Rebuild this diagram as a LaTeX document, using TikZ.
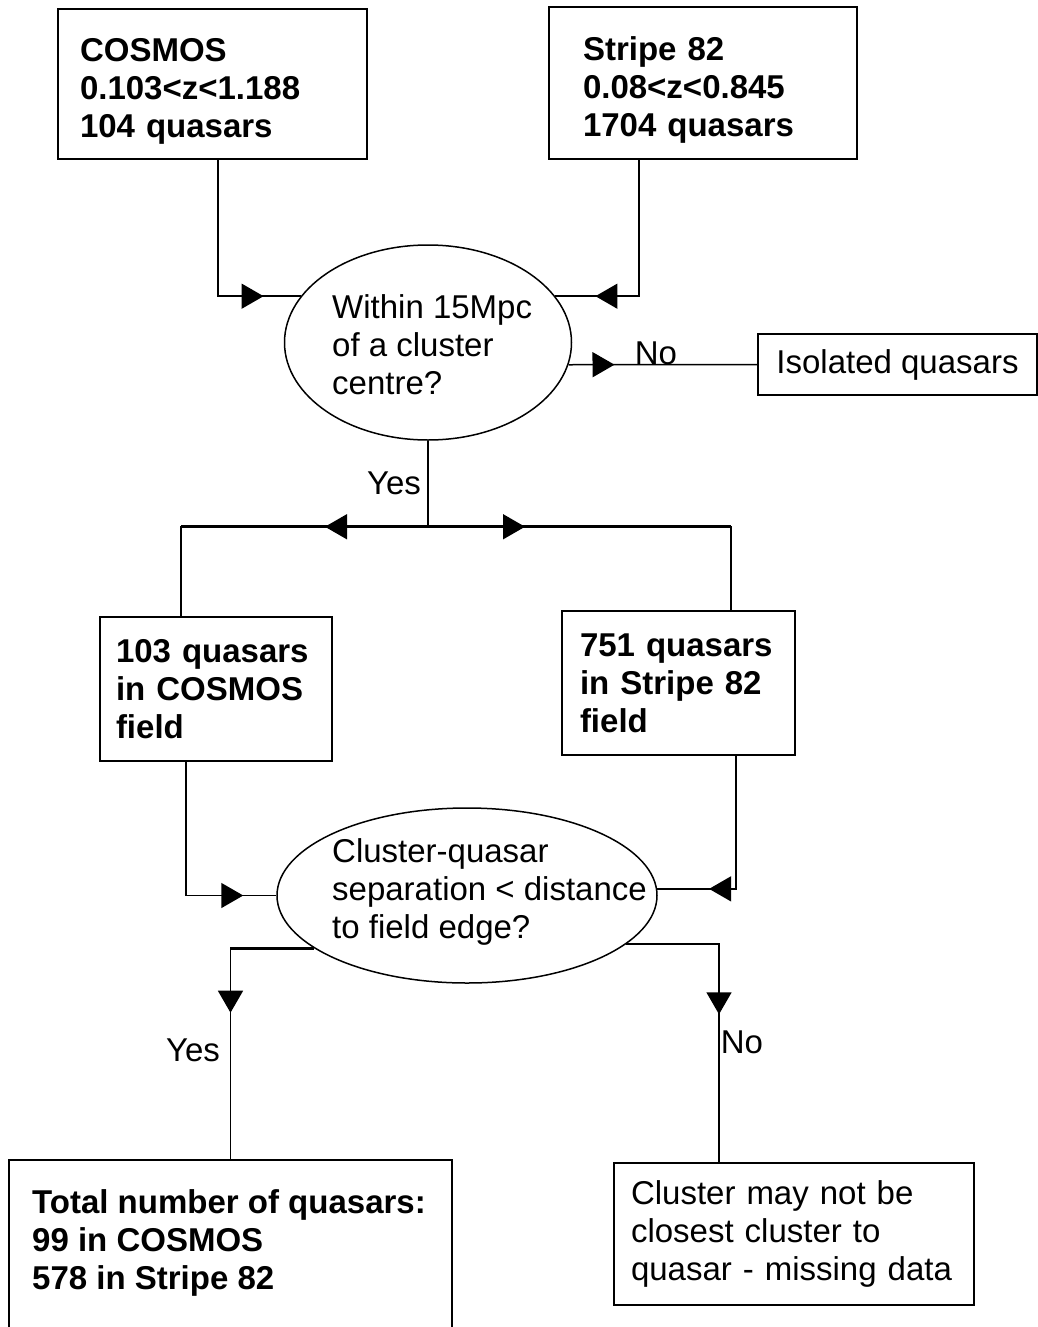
\documentclass[tikz,border=0pt]{standalone}
\usepackage{fontspec}
\setmainfont{Liberation Sans}
\usetikzlibrary{shapes.geometric,arrows.meta,decorations.markings,calc}
\begin{document}
\begin{tikzpicture}[x=1pt,y=-1pt,
  txt/.style={font=\fontsize{33}{38}\selectfont},
  bold/.style={font=\fontsize{33}{38}\selectfont\bfseries},
  box/.style={draw, line width=1.5pt, rectangle, align=left, inner ysep=0pt},
  oval/.style={draw, line width=1.5pt, ellipse, inner sep=0pt},
  conn/.style={line width=1.5pt},
  thickconn/.style={line width=3pt},
  midarrow/.style={postaction={decorate,decoration={markings,mark=at position #1 with {\arrow{Triangle[length=22pt,width=25pt]}}}}},
  lbl/.style={txt, inner sep=0pt}
]
\clip (0,0) rectangle (1038,1327);
\fill[white] (0,0) rectangle (1038,1327);

% boxes
\node[box, bold, text width=265pt, inner xsep=22pt, minimum height=150pt] (cosmos) at (212.5,84)
  {\rule{0pt}{38pt}COSMOS\\0.103<z<1.188\\104 quasars};
\node[box, bold, text width=240pt, inner xsep=34pt, minimum height=152pt] (s82) at (703,83)
  {\rule{0pt}{37pt}Stripe 82\\0.08<z<0.845\\1704 quasars};
\node[box, txt, minimum width=279pt, minimum height=61pt, align=center] (iso) at (897.5,364.5)
  {Isolated quasars};
\node[box, bold, text width=200pt, inner xsep=16pt, minimum height=144pt] (q103) at (216,689)
  {103 quasars\\in COSMOS\\field};
\node[box, bold, text width=197pt, inner xsep=18pt, minimum height=144pt] (q751) at (678.5,683)
  {751 quasars\\in Stripe 82\\field};
\node[box, minimum width=443pt, minimum height=180pt] (total) at (230.5,1250) {};
\node[bold, anchor=west, align=left, inner sep=0pt] (totalt) at (32,1243)
  {Total number of quasars:\\99 in COSMOS\\578 in Stripe 82};
\node[box, txt, text width=326pt, inner xsep=17pt, minimum height=142pt] (cluster) at (794,1234)
  {Cluster may not be\\closest cluster to\\quasar - missing data};

% decision ellipses
\node[oval, minimum width=287pt, minimum height=195pt] (e1) at (428,342.5) {};
\node[txt, anchor=west, align=left, inner sep=0pt] (e1t) at (332,345)
  {Within 15Mpc\\of a cluster\\centre?};
\node[oval, minimum width=380pt, minimum height=175pt] (e2) at (467,895.5) {};
\node[txt, anchor=west, align=left, inner sep=0pt] (e2t) at (332,892)
  {Cluster-quasar\\separation < distance\\to field edge?};

% coordinates for connector ends
\coordinate (q103in) at ($(q103.north)+(-35,0)$);
\coordinate (q751in) at ($(q751.north)+(52.5,0)$);
\coordinate (q103out) at ($(q103.south)+(-30,0)$);
\coordinate (q751out) at ($(q751.south)+(57.5,0)$);
\coordinate (clin) at ($(cluster.north)+(-75,0)$);

% connectors
\draw[conn, midarrow=182pt] ([xshift=5.5pt]cosmos.south) |- (e1.160.5);
\draw[conn, midarrow=180pt] ([xshift=-64pt]s82.south) |- (e1.20);
\draw[conn, midarrow=46pt] (e1.-9) -- (iso.west);
\node[lbl] (no1) at (656,353) {No};

\draw[conn] (e1.south) -- ++(0,86) coordinate (split);
\draw[thickconn] (split) -- (split -| q103in);
\draw[thickconn] (split) -- (split -| q751in);
\draw[conn, midarrow=103pt] (split) -| (q103in);
\draw[conn, midarrow=97pt] (split) -| (q751in);
\node[lbl] (yes1) at (394,483) {Yes};

\draw[conn, midarrow=191pt] (q103out) |- (e2.west);
\draw[conn, midarrow=160pt] (q751out) |- (e2.2.6);

\draw[thickconn] (e2.199) -- (e2.199 -| total.north);
\draw[conn, midarrow=148pt] (e2.199) -| (total.north);
\node[lbl] (yes2) at (193,1050) {Yes};
\draw[conn, midarrow=163pt] (e2.-17) -| (clin);
\node[lbl] (no2) at (742,1042) {No};
\end{tikzpicture}
\end{document}
